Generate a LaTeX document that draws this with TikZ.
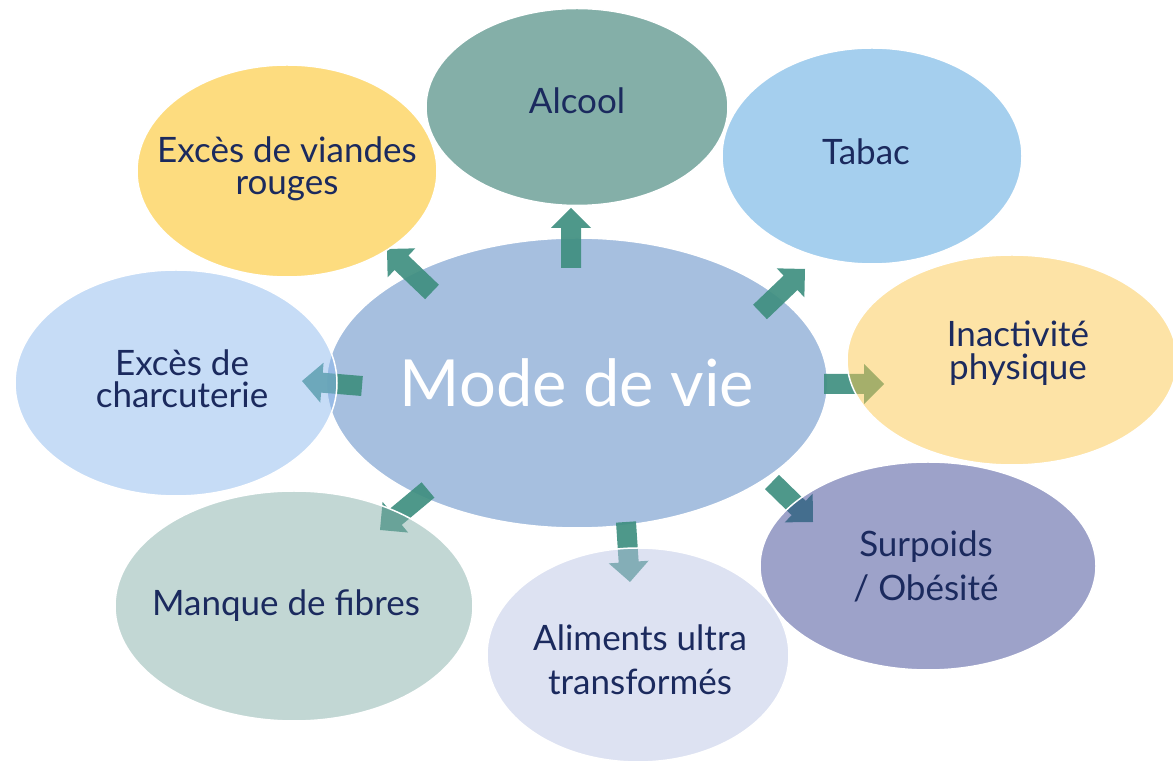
\documentclass[tikz,border=0pt]{standalone}
\usepackage{fontspec}
\setmainfont{Lato}
\usetikzlibrary{calc,shapes.geometric}
\definecolor{txt}{HTML}{1B2A5E}
\definecolor{cmid}{HTML}{A6BFDF}
\definecolor{arrowc}{HTML}{3F8F80}
\definecolor{calc1}{RGB}{9,95,81}
\definecolor{cviande}{RGB}{251,185,0}
\definecolor{ctabac}{RGB}{75,159,221}
\definecolor{cinact}{RGB}{251,199,77}
\definecolor{ccharc}{RGB}{141,185,237}
\definecolor{cfibre}{RGB}{133,175,169}
\definecolor{calim}{RGB}{187,197,229}
\definecolor{csurp}{RGB}{59,69,147}
\newcommand\blockarrow[2]{%
  \coordinate (hb) at ($(#2)!20pt!(#1)$);
  \fill[arrowc, fill opacity=0.92] ($(#1)!10pt!90:(#2)$) -- ($(hb)!10pt!90:(#2)$) -- ($(hb)!20pt!90:(#2)$) -- (#2)
    -- ($(hb)!20pt!-90:(#2)$) -- ($(hb)!10pt!-90:(#2)$) -- ($(#1)!10pt!-90:(#2)$) -- cycle;}
\tikzset{
  bub/.style={ellipse, inner sep=0pt, draw=white, line width=1.5pt, text=txt, align=center,
     fill opacity=0.5, draw opacity=1, text opacity=1},
  lbl/.style={text=txt, align=center, inner sep=0pt, font=\fontsize{35}{32}\selectfont},
  lblw/.style={lbl, font=\fontsize{35}{44}\selectfont},
}
\begin{document}
\begin{tikzpicture}[x=1pt,y=1pt]
\useasboundingbox (0,0) rectangle (1173,763);
\node[bub, fill=cmid, fill opacity=1, text=white, minimum width=486pt, minimum height=290pt,
  font=\fontsize{65}{70}\selectfont] (mid) at (577,380) {Mode de vie};
% arrows
\coordinate (a1t) at (571,495); \coordinate (a1h) at (571,555);
\coordinate (a2t) at (432,471); \coordinate (a2h) at (387,514);
\coordinate (a3t) at (760,451); \coordinate (a3h) at (805,494);
\coordinate (a4t) at (362,377); \coordinate (a4h) at (302,382);
\coordinate (a5t) at (824,379); \coordinate (a5h) at (884,379);
\coordinate (a6t) at (428,273); \coordinate (a6h) at (380,233);
\coordinate (a7t) at (626,241); \coordinate (a7h) at (630,181);
\coordinate (a8t) at (772,281); \coordinate (a8h) at (813,241);
\blockarrow{a1t}{a1h}
\blockarrow{a2t}{a2h}
\blockarrow{a3t}{a3h}
\blockarrow{a4t}{a4h}
\blockarrow{a5t}{a5h}
\blockarrow{a6t}{a6h}
\blockarrow{a7t}{a7h}
\blockarrow{a8t}{a8h}
% outer bubbles
\node[bub, fill=calc1, minimum width=302pt, minimum height=197pt] (alcool) at (577,656) {};
\node[lbl] (alcoolt) at (577,662) {Alcool};
\node[bub, fill=cviande, minimum width=300pt, minimum height=212pt] (viande) at (287,592) {};
\node[lbl] (viandet) at (287,594) {Excès de viandes\\rouges};
\node[bub, fill=ctabac, minimum width=300pt, minimum height=216pt] (tabac) at (872,607) {};
\node[lbl] (tabact) at (866,611) {Tabac};
\node[bub, fill=cinact, minimum width=330pt, minimum height=210pt] (inact) at (1012,403) {};
\node[lbl, font=\fontsize{35}{33}\selectfont] (inactt) at (1018,410) {Inactivité\\physique};
\node[bub, fill=ccharc, minimum width=322pt, minimum height=226pt] (charc) at (176,380) {};
\node[lbl] (charct) at (182,384) {Excès de\\charcuterie};
\node[bub, fill=cfibre, minimum width=358pt, minimum height=230pt] (fibre) at (294,157) {};
\node[lbl] (fibret) at (286,157) {Manque de fibres};
\node[bub, fill=calim, minimum width=302pt, minimum height=214pt] (alim) at (638,108) {};
\node[lblw] (alimt) at (640,103) {Aliments ultra\\transformés};
\node[bub, fill=csurp, minimum width=336pt, minimum height=208pt] (surp) at (928,197) {};
\node[lblw] (surpt) at (926,197) {Surpoids\\/ Obésité};
\end{tikzpicture}
\end{document}
